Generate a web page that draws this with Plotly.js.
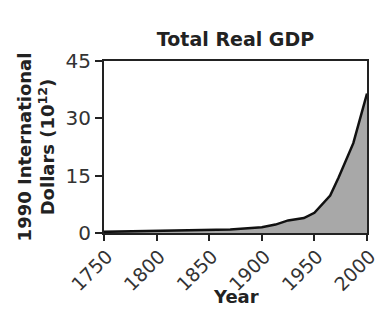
<!DOCTYPE html>
<html>
<head>
<meta charset="utf-8">
<script src="https://cdn.plot.ly/plotly-3.0.1.min.js"></script>
<style>html,body{margin:0;padding:0;background:#fff;}#chart{width:382px;height:317px;}</style>
</head>
<body>
<div id="chart"></div>
<script>
const years = [1750, 1800, 1850, 1870, 1900, 1913, 1925, 1940, 1950, 1960, 1965, 1973, 1987, 2000];
const gdp   = [0.3,  0.5,  0.7,  0.9,  1.5,  2.2,  3.3,  3.9,  5.3,  8.2,  9.8,  14.5, 23.5, 36.5];
const xTicks = [1750, 1800, 1850, 1900, 1950, 2000];
const yTicks = [0, 15, 30, 45];

const trace = {
  x: years, y: gdp, type: 'scatter', mode: 'lines',
  fill: 'tozeroy', fillcolor: '#a8a8a8',
  line: {color: '#111', width: 2.5},
  hoverinfo: 'skip'
};

const layout = {
  width: 382, height: 317,
  margin: {l: 104, r: 15, t: 61, b: 84},
  paper_bgcolor: '#fff', plot_bgcolor: '#fff',
  showlegend: false,
  font: {family: 'DejaVu Sans, sans-serif', color: '#333'},
  title: {text: '<b>Total Real GDP</b>', font: {family: 'DejaVu Sans', size: 19, color: '#222'},
          x: 0.5, xref: 'paper', xanchor: 'center', y: 1 - 39/317, yref: 'container', yanchor: 'middle'},
  xaxis: {
    range: [1750, 2000], tickvals: xTicks, ticktext: xTicks.map(String),
    tickangle: -45, tickfont: {size: 19, color: '#333'}, ticklabelstandoff: -3, ticklabelshift: 3,
    ticklabeloverflow: 'allow',
    ticks: 'outside', ticklen: 6, tickwidth: 2, tickcolor: '#222',
    showline: true, linecolor: '#222', linewidth: 2, mirror: true,
    showgrid: false, zeroline: false
  },
  yaxis: {
    range: [0, 45], tickvals: yTicks, ticktext: yTicks.map(String),
    tickfont: {size: 20, color: '#333'},
    ticks: 'outside', ticklen: 7, tickwidth: 2, tickcolor: '#222',
    showline: true, linecolor: '#222', linewidth: 2, mirror: true,
    showgrid: false, zeroline: false,
    title: {text: '<b>1990 International<br>Dollars (10<sup>12</sup>)</b>', font: {size: 18, color: '#222'}, standoff: 6}
  },
  annotations: [{
    text: '<b>Year</b>', xref: 'paper', yref: 'paper', x: 0.5, y: -(296 - 233) / (317 - 61 - 84),
    xanchor: 'center', yanchor: 'middle', showarrow: false,
    font: {family: 'DejaVu Sans', size: 18, color: '#222'}
  }]
};

Plotly.newPlot('chart', [trace], layout, {staticPlot: true, displayModeBar: false});
</script>
</body>
</html>
